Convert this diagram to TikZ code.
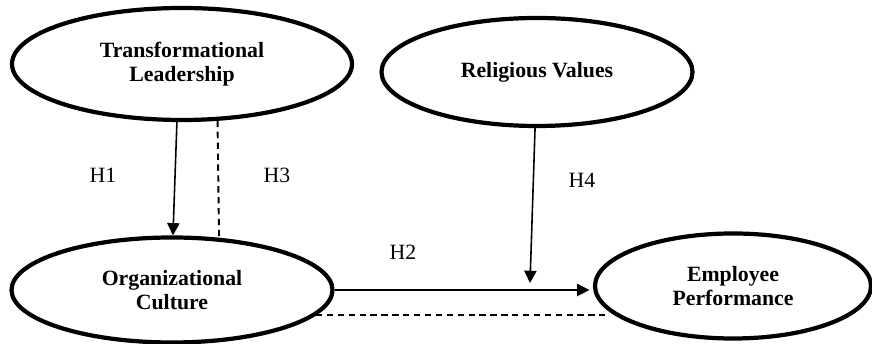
\documentclass[tikz,border=0pt]{standalone}
\usepackage{fontspec}
\setmainfont{Liberation Serif}
\usepackage{tikz}
\usetikzlibrary{arrows.meta}
\usetikzlibrary{shapes.geometric}

\begin{document}
\begin{tikzpicture}[
    construct/.style={shape=ellipse, draw=black, line width=2.4pt, inner sep=0pt,
        align=center, font=\fontsize{12.4}{13.4}\selectfont\bfseries},
    hyp/.style={font=\fontsize{12.4}{14}\selectfont},
    link/.style={line width=0.9pt, -{Triangle[length=7pt,width=7pt]}},
    nolink/.style={line width=1.1pt, dash pattern=on 3.6pt off 2.6pt}]

    \useasboundingbox (0,0) rectangle (17.44,6.88);

                \node[construct, minimum width=6.8cm, minimum height=2.24cm] (TL) at (3.64,5.60) {Transformational\\Leadership};
                \node[construct, minimum width=6.22cm, minimum height=2.16cm] (RV) at (10.74,5.44) {Religious Values};
                \node[construct, minimum width=6.42cm, minimum height=2.10cm] (OC) at (3.44,1.08) {Organizational\\Culture};
                \node[construct, minimum width=5.52cm, minimum height=2.10cm] (EP) at (14.66,1.16) {Employee\\Performance};

                \coordinate (M) at (10.60,1.22);

                \draw[link] (TL.265) -- (OC.89);
                \draw[nolink] (TL.302.6) -- (OC.48.2);
                \draw[link, shorten >=2pt] (OC.east) -- (OC.east -| EP.west);
                \draw[link] (RV.268) -- (M);
                \draw[nolink] (OC.350) -- (OC.350 -| EP.190);

                \node[hyp] (H1) at (2.06,3.38) {H1};
                \node[hyp] (H3) at (5.54,3.38) {H3};
                \node[hyp] (H4) at (11.64,3.28) {H4};
                \node[hyp] (H2) at (8.06,1.84) {H2};

\end{tikzpicture}
\end{document}
